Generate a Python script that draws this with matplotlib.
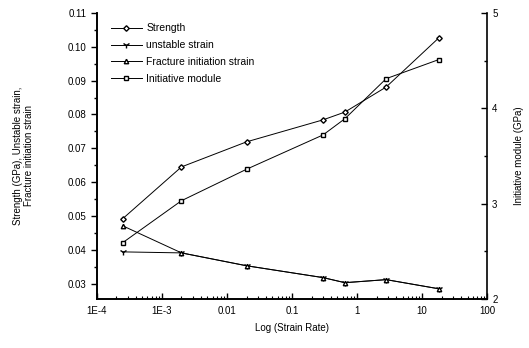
import matplotlib
matplotlib.use("Agg")
import matplotlib.pyplot as plt
from matplotlib.ticker import FixedLocator, MultipleLocator, LogLocator, NullFormatter

plt.rcParams['font.family'] = ['Liberation Sans', 'DejaVu Sans']

# strain rates (1/s)
rate = [2.5e-4, 2.0e-3, 0.02, 0.3, 0.65, 2.8, 18]

strength = [0.0492, 0.0645, 0.0719, 0.0784, 0.0807, 0.0881, 0.1026]
unstable_strain = [0.0394, 0.0391, 0.0353, 0.0318, 0.0303, 0.0312, 0.0285]
fracture_strain = [0.0471, 0.0391, 0.0353, 0.0318, 0.0303, 0.0312, 0.0285]
modulus = [2.59, 3.03, 3.36, 3.72, 3.89, 4.31, 4.51]

xticks = [1e-4, 1e-3, 1e-2, 0.1, 1, 10, 100]
xtick_labels = ['1E-4', '1E-3', '0.01', '0.1', '1', '10', '100']
yticks = [0.03, 0.04, 0.05, 0.06, 0.07, 0.08, 0.09, 0.10, 0.11]
ytick_labels = ['0.03', '0.04', '0.05', '0.06', '0.07', '0.08', '0.09', '0.10', '0.11']
y2ticks = [2, 3, 4, 5]

fig = plt.figure(figsize=(5.29, 3.48), dpi=100)
ax = fig.add_axes([0.183, 0.141, 0.738, 0.822])
ax2 = ax.twinx()

lw = 0.7
ms = 3.2
l1, = ax.plot(rate, strength, '-', marker='D', ms=2.8, mfc='white', mec='black',
              color='black', lw=lw, label='Strength')
l2, = ax.plot(rate, unstable_strain, '-', marker='1', ms=5, mec='black',
              color='black', lw=lw, label='unstable strain')
l3, = ax.plot(rate, fracture_strain, '-', marker='^', ms=ms, mfc='white', mec='black',
              color='black', lw=lw, label='Fracture initiation strain')
l4, = ax2.plot(rate, modulus, '-', marker='s', ms=ms, mfc='white', mec='black',
               color='black', lw=lw, label='Initiative module')

ax.set_xscale('log')
ax.set_xlim(1e-4, 100)
ax.set_ylim(0.0255, 0.11)
ax2.set_ylim(2, 5)

ax.xaxis.set_major_locator(FixedLocator(xticks))
ax.set_xticklabels(xtick_labels)
ax.xaxis.set_minor_locator(LogLocator(base=10, subs=range(2, 10), numticks=20))
ax.xaxis.set_minor_formatter(NullFormatter())
ax.yaxis.set_major_locator(FixedLocator(yticks))
ax.set_yticklabels(ytick_labels)
ax.yaxis.set_minor_locator(MultipleLocator(0.005))
ax2.yaxis.set_major_locator(FixedLocator(y2ticks))
ax2.yaxis.set_minor_locator(MultipleLocator(0.5))

for a in (ax, ax2):
    a.spines['top'].set_visible(False)
    for s in a.spines.values():
        s.set_linewidth(1.2)
ax.spines['right'].set_visible(False)

ax.tick_params(axis='y', which='major', direction='out', length=4, width=1, labelsize=7)
ax.tick_params(axis='y', which='minor', direction='out', length=2.5, width=1)
ax.tick_params(axis='x', which='major', direction='in', length=4, width=1, labelsize=7, pad=5)
ax.tick_params(axis='x', which='minor', direction='in', length=2, width=0.8)
ax2.tick_params(axis='y', which='major', direction='in', length=4, width=1, labelsize=7)
ax2.tick_params(axis='y', which='minor', direction='in', length=2.5, width=1)

ax.set_xlabel('Log (Strain Rate)', fontsize=7, labelpad=5)
ax.set_ylabel('Strength (GPa), Unstable strain,\nFracture initiation strain', fontsize=7, labelpad=24)
ax2.set_ylabel('Initiative module (GPa)', fontsize=7, rotation=90, labelpad=12)

ax.legend(handles=[l1, l2, l3, l4], loc='upper left', bbox_to_anchor=(0.02, 0.985),
          frameon=False, fontsize=7.5, handlelength=3, labelspacing=0.65,
          handletextpad=0.4, borderaxespad=0.2)

fig.savefig('out.png', dpi=100)
